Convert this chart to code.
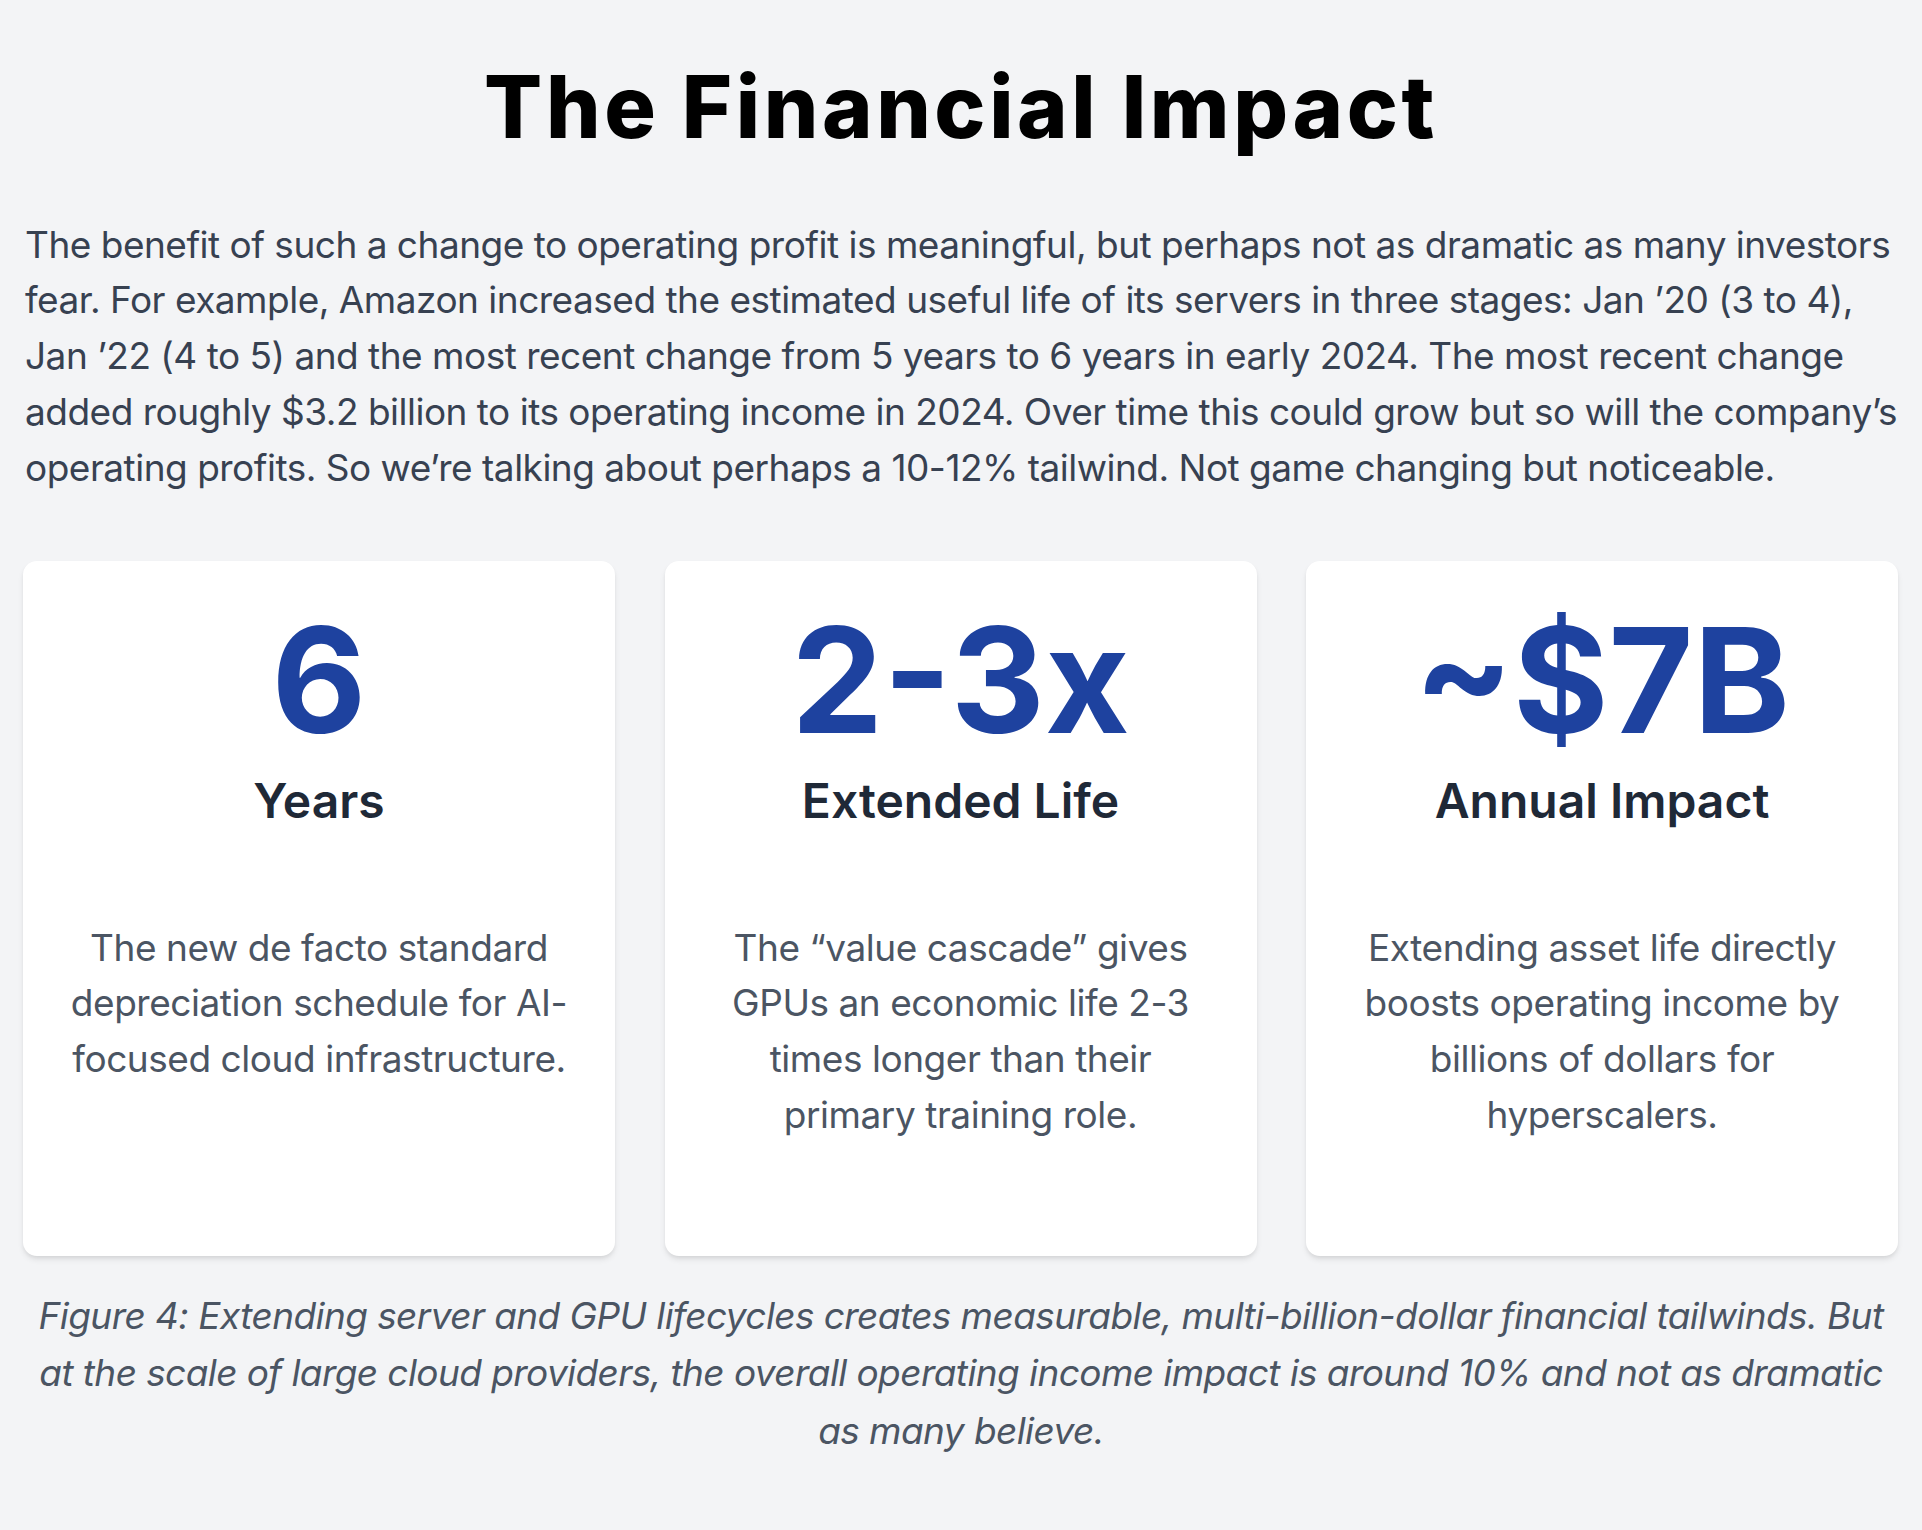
<!DOCTYPE html>
<html>
<head>
<meta charset="utf-8">
<script src="https://cdn.jsdelivr.net/npm/chart.js@4.4.0/dist/chart.umd.min.js"></script>
<style>
  html, body { margin: 0; padding: 0; background: #f3f4f6; }
  body { width: 1922px; height: 1530px; position: relative; font-family: Inter, "Noto Sans", sans-serif; overflow: hidden; }
  #title { position: absolute; left: 0; width: 1922px; top: 64px; text-align: center;
           font-family: Inter, sans-serif; font-weight: 800; font-size: 86px; line-height: 86px;
           color: #000; letter-spacing: 3.6px; white-space: nowrap; }
  #intro { position: absolute; left: 25px; top: 216.7px; font-size: 37px; line-height: 55.75px;
           color: #374151; white-space: nowrap; letter-spacing: -0.5px; }
  .card { position: absolute; top: 561px; width: 592px; height: 695px; background: #fff; border-radius: 14px;
          box-shadow: 0 4px 6px -1px rgba(0,0,0,0.10), 0 2px 4px -1px rgba(0,0,0,0.06); text-align: center; }
  .num { position: absolute; left: 0; right: 0; top: 46px; font-size: 146px; line-height: 146px; font-weight: 700;
         color: #1e429f; white-space: nowrap; }
  .lab { position: absolute; left: 0; right: 0; top: 215.5px; font-size: 48px; line-height: 48px; font-weight: 600;
         color: #1f2937; white-space: nowrap; }
  .desc { position: absolute; left: 0; right: 0; top: 358.7px; font-size: 37px; line-height: 55.75px;
          color: #4b5563; white-space: nowrap; letter-spacing: -0.45px; }
  #caption { position: absolute; left: 0; width: 1922px; top: 1286.8px; text-align: center; font-style: italic;
             font-size: 37px; line-height: 57.5px; color: #4b5563; white-space: nowrap; letter-spacing: -0.58px; }
</style>
</head>
<body>
<div id="title"></div>
<div id="intro"></div>
<div id="cards"></div>
<div id="caption"></div>
<script>
const titleText = "The Financial Impact";
const introLines = [
  "The benefit of such a change to operating profit is meaningful, but perhaps not as dramatic as many investors",
  "fear. For example, Amazon increased the estimated useful life of its servers in three stages: Jan \u201920 (3 to 4),",
  "Jan \u201922 (4 to 5) and the most recent change from 5 years to 6 years in early 2024. The most recent change",
  "added roughly $3.2 billion to its operating income in 2024. Over time this could grow but so will the company\u2019s",
  "operating profits. So we\u2019re talking about perhaps a 10-12% tailwind. Not game changing but noticeable."
];
const statValues = ["6", "2-3x", "~$7B"];
const statLabels = ["Years", "Extended Life", "Annual Impact"];
const statDescriptions = [
  ["The new de facto standard", "depreciation schedule for AI-", "focused cloud infrastructure."],
  ["The \u201cvalue cascade\u201d gives", "GPUs an economic life 2-3", "times longer than their", "primary training role."],
  ["Extending asset life directly", "boosts operating income by", "billions of dollars for", "hyperscalers."]
];
const captionLines = [
  "Figure 4: Extending server and GPU lifecycles creates measurable, multi-billion-dollar financial tailwinds. But",
  "at the scale of large cloud providers, the overall operating income impact is around 10% and not as dramatic",
  "as many believe."
];

function esc(s) { return s.replace(/&/g, "&amp;").replace(/</g, "&lt;"); }
document.getElementById("title").textContent = titleText;
document.getElementById("intro").innerHTML = introLines.map(esc).join("<br>");
document.getElementById("caption").innerHTML = captionLines.map(esc).join("<br>");
const cardLefts = [23, 664.5, 1306];
const cards = document.getElementById("cards");
statValues.forEach((v, i) => {
  const c = document.createElement("div");
  c.className = "card";
  c.style.left = cardLefts[i] + "px";
  c.innerHTML = '<div class="num">' + esc(v) + '</div><div class="lab">' + esc(statLabels[i]) +
    '</div><div class="desc">' + statDescriptions[i].map(esc).join("<br>") + '</div>';
  cards.appendChild(c);
});
</script>
</body>
</html>
